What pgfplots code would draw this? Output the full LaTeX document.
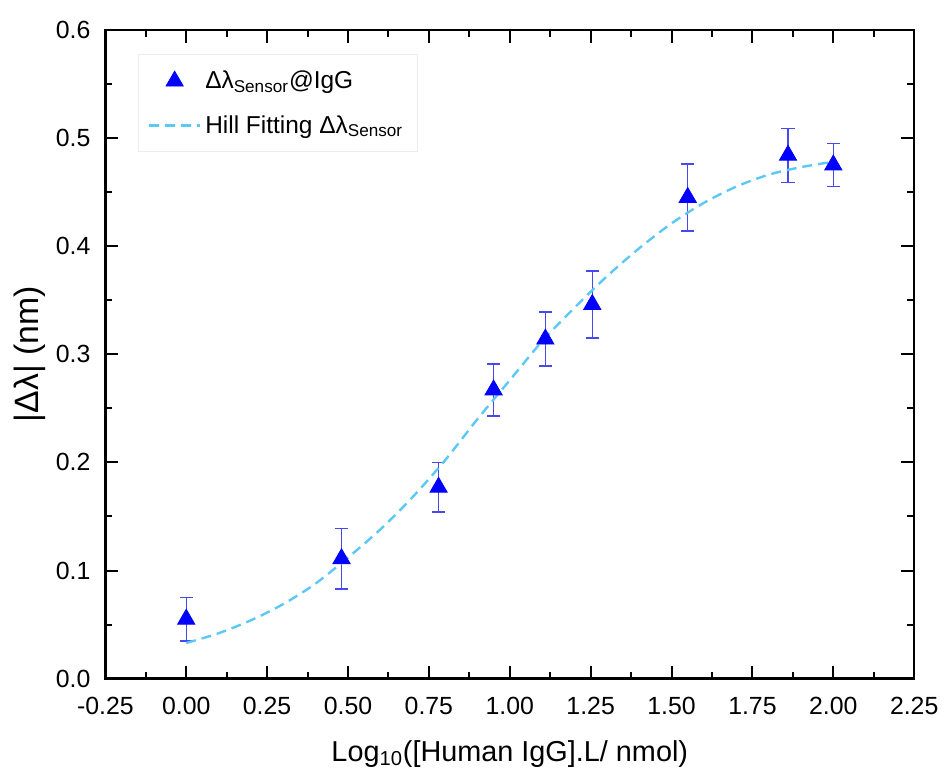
\documentclass[border=0pt]{standalone}
\usepackage{pgfplots}
\pgfplotsset{compat=1.18}
\usepackage{fontspec}
\setmainfont{Liberation Sans}
\definecolor{fitblue}{HTML}{5BC8F5}
\definecolor{errblue}{HTML}{4848F0}
\pgfplotsset{
  longline/.style={legend image code/.code={\draw[##1] (0cm,0cm) -- (0.9cm,0cm);}},
  midmark/.style={legend image code/.code={\draw[##1] plot coordinates {(0.45cm,0cm)};}},
}
\begin{document}
\begin{tikzpicture}
\begin{axis}[
  scale only axis,
  width=407pt, height=326.5pt,
  xmin=-0.25, xmax=2.25, ymin=0, ymax=0.6,
  xtick={-0.25,0,0.25,0.5,0.75,1,1.25,1.5,1.75,2,2.25},
  xticklabels={-0.25,0.00,0.25,0.50,0.75,1.00,1.25,1.50,1.75,2.00,2.25},
  ytick={0,0.1,0.2,0.3,0.4,0.5,0.6},
  yticklabels={0.0,0.1,0.2,0.3,0.4,0.5,0.6},
  minor x tick num=1, minor y tick num=1,
  tick align=inside,
  major tick length=6.5pt, minor tick length=3.5pt,
  tick style={black, line width=1pt},
  axis line style={line width=1.3pt},
  ticklabel style={font=\fontsize{12.5}{14}\selectfont},
  xticklabel style={yshift=-6pt},
  yticklabel style={xshift=-4pt},
  xlabel={Log\textsubscript{10}([Human IgG].L/ nmol)},
  ylabel={|Δλ| (nm)},
  xlabel style={font=\fontsize{14.5}{16}\selectfont, yshift=-6pt},
  ylabel style={font=\fontsize{17}{19}\selectfont, yshift=-2pt},
  legend style={at={(0.04,0.962)}, anchor=north west, draw=gray!15,
    font=\fontsize{12.3}{14}\selectfont, row sep=8pt, inner xsep=5pt, inner ysep=6pt},
  legend cell align=left,
  clip=false,
]
\addplot[only marks, mark=triangle*, mark size=5pt, color=blue, mark options={fill=blue},
  midmark,
  error bars/.cd, y dir=both, y explicit,
  error bar style={errblue, line width=0.7pt},
  error mark options={errblue, mark size=3.3pt, line width=0.7pt, rotate=90}]
  coordinates {
  (0.00,0.055) +- (0,0.020)
  (0.48,0.111) +- (0,0.028)
  (0.78,0.177) +- (0,0.023)
  (0.95,0.267) +- (0,0.024)
  (1.11,0.314) +- (0,0.025)
  (1.255,0.346) +- (0,0.031)
  (1.55,0.445) +- (0,0.031)
  (1.86,0.484) +- (0,0.025)
  (2.00,0.475) +- (0,0.020)
  };
\addlegendentry{Δλ\textsubscript{Sensor}@IgG}
\addplot[fitblue, line width=1.2pt, dash pattern=on 5pt off 3pt, smooth, longline] coordinates {
  (0.0,0.033) (0.1,0.042) (0.2,0.054) (0.3,0.069) (0.4,0.088) (0.5,0.112)
  (0.6,0.138) (0.7,0.168) (0.8,0.202) (0.9,0.240) (1.0,0.276) (1.1,0.312)
  (1.2,0.343) (1.3,0.372) (1.4,0.398) (1.5,0.421) (1.6,0.440) (1.7,0.455)
  (1.8,0.466) (1.9,0.473) (2.0,0.478)
};
\addlegendentry{Hill Fitting Δλ\textsubscript{Sensor}}
\end{axis}
\path ([yshift=15pt]current axis.north);
\path ([xshift=-53pt]current axis.west);
\end{tikzpicture}
\end{document}
